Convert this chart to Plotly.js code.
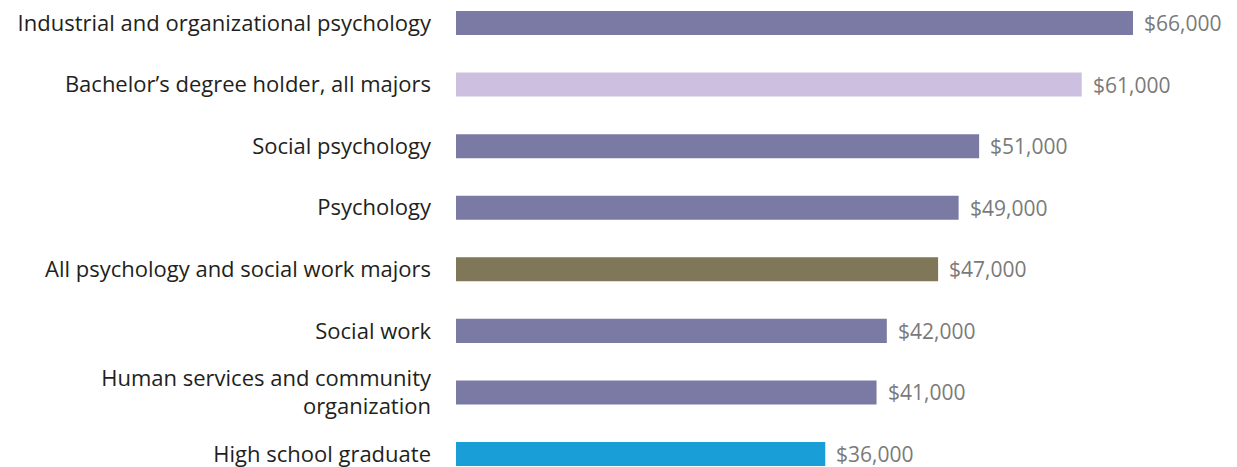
<!DOCTYPE html>
<html>
<head>
<meta charset="utf-8">
<script src="https://cdn.plot.ly/plotly-3.0.1.min.js"></script>
<style>html,body{margin:0;padding:0;background:#fff}#chart{width:1237px;height:467px}</style>
</head>
<body>
<div id="chart"></div>
<script>
// Data
var categories = [
  "Industrial and organizational psychology",
  "Bachelor\u2019s degree holder, all majors",
  "Social psychology",
  "Psychology",
  "All psychology and social work majors",
  "Social work",
  "Human services and community<br>organization",
  "High school graduate"
];
var salaries = [66000, 61000, 51000, 49000, 47000, 42000, 41000, 36000];
var groups = ["major", "bachelor", "major", "major", "allpsych", "major", "major", "highschool"];

// Styles
var groupColors = {
  major: "#7b7aa5",
  bachelor: "#cdbfdf",
  allpsych: "#807658",
  highschool: "#199ed8"
};
var FONT = "'Open Sans', 'Noto Sans', sans-serif";

var trace = {
  type: "bar",
  orientation: "h",
  x: salaries,
  y: categories,
  marker: { color: groups.map(function (g) { return groupColors[g]; }) },
  width: 0.39,
  hoverinfo: "none"
};

var annotations = salaries.map(function (v, i) {
  return {
    x: v, y: categories[i], xref: "x", yref: "y",
    text: "$" + v.toLocaleString("en-US"),
    showarrow: false, xanchor: "left", yanchor: "middle",
    xshift: 10, borderpad: 0, height: 22, valign: "middle",
    font: { family: FONT, size: 21, color: "#7a7a7a" }
  };
});

var layout = {
  width: 1237, height: 467,
  margin: { l: 456, r: 0, t: 0, b: 0 },
  paper_bgcolor: "#ffffff", plot_bgcolor: "#ffffff",
  showlegend: false,
  xaxis: {
    range: [0, 76140], showgrid: false, zeroline: false,
    showticklabels: false, showline: false, ticks: ""
  },
  yaxis: {
    type: "category",
    range: [7.211, -0.374],
    showgrid: false, zeroline: false, showline: false, ticks: "",
    ticklabelstandoff: 24,
    tickfont: { family: FONT, size: 22, color: "#231f20" }
  },
  annotations: annotations
};

Plotly.newPlot("chart", [trace], layout, { staticPlot: true, displayModeBar: false });
</script>
</body>
</html>
